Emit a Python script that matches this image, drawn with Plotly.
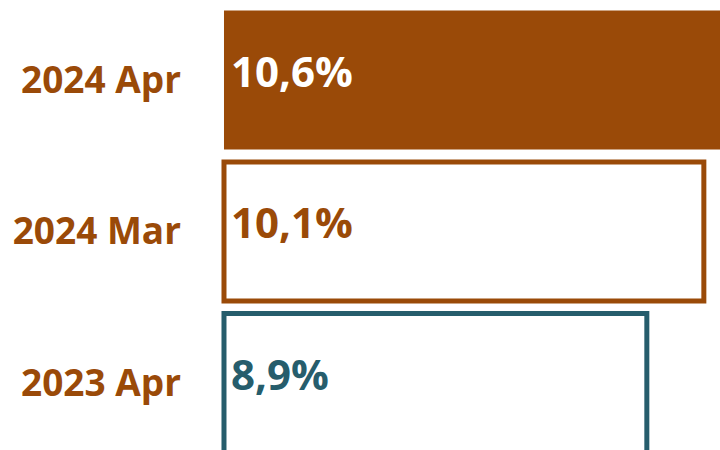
import plotly.graph_objects as go

categories = ["2023 Apr", "2024 Mar", "2024 Apr"]
values = [8.9, 10.1, 10.6]
labels = ["8,9%", "10,1%", "10,6%"]

BROWN = "#9A4A08"
TEAL = "#265D6C"
fill_colors = ["white", "white", BROWN]
line_colors = [TEAL, BROWN, BROWN]
line_widths = [5, 5, 0]
text_colors = [TEAL, BROWN, "white"]

fig = go.Figure()
fig.add_trace(go.Bar(
    y=categories, x=values, orientation="h",
    marker=dict(color=fill_colors, line=dict(color=line_colors, width=line_widths)),
    hoverinfo="skip",
))

for c, v, t, col in zip(categories, values, labels, text_colors):
    fig.add_annotation(x=0, y=c, text=t, showarrow=False, xanchor="left", yanchor="middle",
                       xshift=5, yshift=10,
                       font=dict(family="Open Sans", size=42, color=col, weight=700))

fig.update_layout(
    width=720, height=450,
    margin=dict(l=218, r=0, t=0, b=0),
    paper_bgcolor="white", plot_bgcolor="white",
    bargap=0.083,
    showlegend=False,
    xaxis=dict(range=[-0.126, 10.44], visible=False, showgrid=False, zeroline=False),
    yaxis=dict(range=[-0.442, 2.528], type="category", showgrid=False, zeroline=False,
               showline=False, ticks="", ticklabelstandoff=36,
               tickfont=dict(family="Open Sans", size=37, color=BROWN, weight=700)),
)
fig.write_html("out.html", config={"displayModeBar": False},
               post_script="document.body.style.margin='0';")
